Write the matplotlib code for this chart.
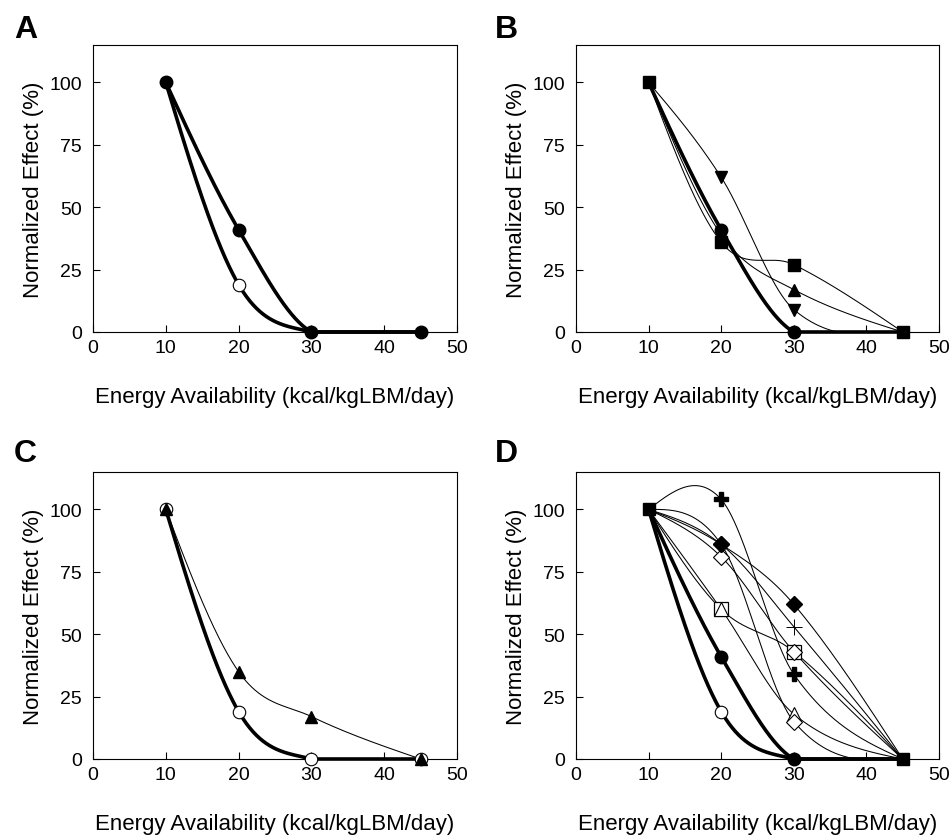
import numpy as np
import matplotlib
matplotlib.use("Agg")
import matplotlib.pyplot as plt

plt.rcParams['font.family'] = ['Liberation Sans', 'DejaVu Sans']

# ---------------- data ----------------
x_levels = [10, 20, 30, 45]

# Panel A
A_filled = [100, 41, 0, 0]
A_open = [100, 19, 0, 0]

# Panel B
B_circle = [100, 41, 0, 0]
B_square = [100, 36, 27, 0]
B_tri_up = [100, 39, 17, 0]
B_tri_down = [100, 62, 9, 0]

# Panel C
C_open = [100, 19, 0, 0]
C_tri_up = [100, 35, 17, 0]

# Panel D
D_filled_circle = [100, 41, 0, 0]
D_open_circle = [100, 19, 0, 0]
D_bold_plus = [100, 104, 34, 0]
D_thin_plus = [100, 86, 53, 0]
D_filled_diamond = [100, 86, 62, 0]
D_open_diamond = [100, 81, 43, 0]
D_open_square = [100, 60, 43, 0]
D_open_triangle = [100, 60, 18, 0]
D_open_diamond2 = [100, 86, 15, 0]
D_end_x = [10, 45]
D_end_y = [100, 0]

x_ticks = [0, 10, 20, 30, 40, 50]
y_ticks = [0, 25, 50, 75, 100]
x_label = "Energy Availability (kcal/kgLBM/day)"
y_label = "Normalized Effect (%)"


def smooth_curve(x, y, n=400):
    """Cubic Hermite spline: centred-difference tangents inside,
    natural (quadratic) end conditions."""
    x = np.asarray(x, float)
    y = np.asarray(y, float)
    k = len(x)
    m = np.zeros(k)
    for i in range(1, k - 1):
        m[i] = (y[i + 1] - y[i - 1]) / (x[i + 1] - x[i - 1])
    d0 = (y[1] - y[0]) / (x[1] - x[0])
    dn = (y[-1] - y[-2]) / (x[-1] - x[-2])
    m[0] = (3 * d0 - m[1]) / 2
    m[-1] = (3 * dn - m[-2]) / 2
    xs_all, ys_all = [], []
    for i in range(k - 1):
        h = x[i + 1] - x[i]
        t = np.linspace(0, 1, n // (k - 1))
        h00 = 2 * t ** 3 - 3 * t ** 2 + 1
        h10 = t ** 3 - 2 * t ** 2 + t
        h01 = -2 * t ** 3 + 3 * t ** 2
        h11 = t ** 3 - t ** 2
        ys = h00 * y[i] + h10 * h * m[i] + h01 * y[i + 1] + h11 * h * m[i + 1]
        xs_all.append(x[i] + t * h)
        ys_all.append(ys)
    return np.concatenate(xs_all), np.maximum(np.concatenate(ys_all), 0)


def curve(ax, y, lw):
    xs, ys = smooth_curve(x_levels, y)
    ax.plot(xs, ys, color='black', lw=lw, clip_on=False, zorder=2,
            solid_capstyle='round', solid_joinstyle='round')


def marks(ax, xv, yv, marker, ms, filled=True, mew=1.0, z=4):
    ax.plot(xv, yv, linestyle='none', marker=marker, ms=ms,
            mfc='black' if filled else 'white', mec='black', mew=mew,
            clip_on=False, zorder=z)


def style(ax):
    ax.set_xlim(0, 50)
    ax.set_ylim(0, 115)
    ax.set_xticks(x_ticks)
    ax.set_yticks(y_ticks)
    ax.tick_params(direction='in', length=5, width=0.8, labelsize=14,
                   top=False, right=False, pad=5)
    ax.tick_params(axis='y', pad=8)
    for s in ax.spines.values():
        s.set_linewidth(0.8)
    ax.set_xlabel(x_label, fontsize=16, labelpad=22)
    ax.set_ylabel(y_label, fontsize=16, labelpad=4)


fig = plt.figure(figsize=(9.52, 8.37), dpi=100)
W, H = 952, 837
rects = {
    'A': [93 / W, 1 - 333 / H, 364 / W, 287 / H],
    'B': [576 / W, 1 - 333 / H, 363 / W, 287 / H],
    'C': [93 / W, 1 - 760 / H, 364 / W, 287 / H],
    'D': [576 / W, 1 - 760 / H, 363 / W, 287 / H],
}
axes = {k: fig.add_axes(v) for k, v in rects.items()}
for k, ax in axes.items():
    style(ax)

letter_pos = {'A': (14, 38), 'B': (495, 38), 'C': (14, 462), 'D': (495, 462)}
for k, (px, py) in letter_pos.items():
    fig.text(px / W, 1 - py / H, k, fontsize=23, fontweight='bold',
             va='baseline', ha='left')

THICK = 2.6
THIN = 0.75

# Panel A
ax = axes['A']
curve(ax, A_open, THICK)
curve(ax, A_filled, THICK)
marks(ax, x_levels[1:2], A_open[1:2], 'o', 9, filled=False, mew=0.8)
marks(ax, x_levels, A_filled, 'o', 9)

# Panel B
ax = axes['B']
curve(ax, B_circle, THICK)
curve(ax, B_square, THIN)
curve(ax, B_tri_up, THIN)
curve(ax, B_tri_down, THIN)
marks(ax, x_levels[1:3], B_circle[1:3], 'o', 9)
marks(ax, x_levels[1:3], B_tri_up[1:3], '^', 9)
marks(ax, x_levels[1:3], B_tri_down[1:3], 'v', 9)
marks(ax, x_levels, B_square, 's', 9)

# Panel C
ax = axes['C']
curve(ax, C_open, THICK)
curve(ax, C_tri_up, THIN)
marks(ax, x_levels, C_open, 'o', 9, filled=False, mew=0.8)
marks(ax, x_levels, C_tri_up, '^', 9)

# Panel D
ax = axes['D']
for ser in [D_bold_plus, D_thin_plus, D_filled_diamond, D_open_diamond,
            D_open_square, D_open_triangle, D_open_diamond2]:
    curve(ax, ser, THIN)
curve(ax, D_open_circle, THICK)
curve(ax, D_filled_circle, THICK)
mid = slice(1, 3)
marks(ax, x_levels[1:2], D_open_circle[1:2], 'o', 9, filled=False, mew=0.8)
marks(ax, x_levels[mid], D_filled_circle[mid], 'o', 9)
marks(ax, x_levels[mid], D_open_square[mid], 's', 10, filled=False, mew=0.9)
marks(ax, x_levels[mid], D_open_triangle[mid], '^', 10, filled=False, mew=0.8)
marks(ax, x_levels[mid], D_open_diamond[mid], 'D', 8, filled=False, mew=0.8)
marks(ax, x_levels[mid], D_open_diamond2[mid], 'D', 8, filled=False, mew=0.8)
marks(ax, x_levels[mid], D_filled_diamond[mid], 'D', 8)
marks(ax, x_levels[mid], D_thin_plus[mid], '+', 12, mew=0.7)
marks(ax, x_levels[mid], D_bold_plus[mid], 'P', 10)
marks(ax, D_end_x, D_end_y, 's', 9)

fig.savefig('out.png', dpi=100)
